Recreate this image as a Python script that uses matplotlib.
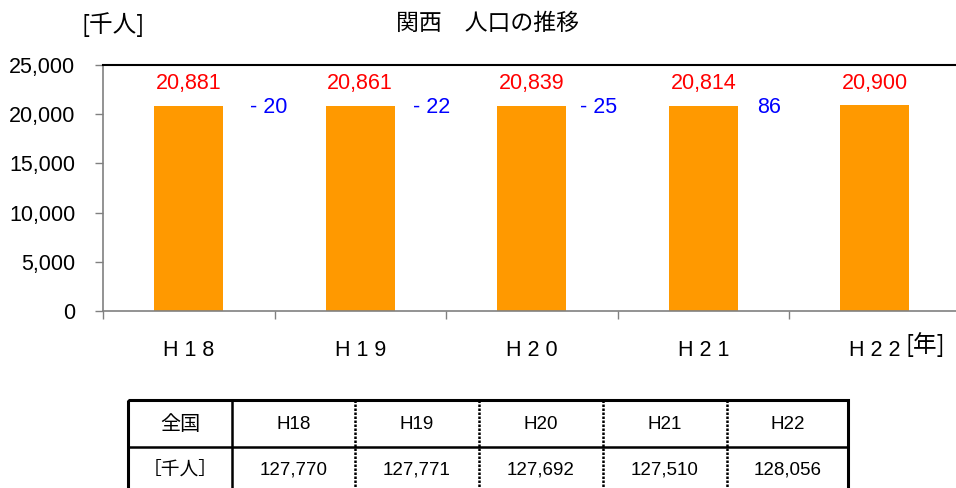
import numpy as np
import matplotlib
matplotlib.use('Agg')
import matplotlib.pyplot as plt
from matplotlib.patches import Rectangle
from matplotlib.ticker import FuncFormatter, FixedLocator

plt.rcParams['font.family'] = ['Liberation Sans', 'Noto Sans CJK JP', 'DejaVu Sans']

# data
years = ['H18', 'H19', 'H20', 'H21', 'H22']
kansai = [20881, 20861, 20839, 20814, 20900]
diffs = [-20, -22, -25, 86]
japan = [127770, 127771, 127692, 127510, 128056]
yticks = [0, 5000, 10000, 15000, 20000, 25000]

# horizontal nudge of the change labels (points), as placed in the original
diff_dx = [-4, -10.5, -13.5, -14]

W, H = 956, 488
fig = plt.figure(figsize=(W / 100, H / 100), dpi=100)

# main chart axes (pixel layout)
left, right, top, bottom = 103, 103 + 171.5 * 5, 65, 311
ax = fig.add_axes([left / W, (H - bottom) / H, (right - left) / W, (bottom - top) / H])

x = np.arange(len(years))
ax.bar(x, kansai, width=0.4, color='#FF9900', zorder=2)
ax.set_xlim(-0.5, len(years) - 0.5)
ax.set_ylim(0, 25000)

ax.yaxis.set_major_locator(FixedLocator(yticks))
ax.yaxis.set_major_formatter(FuncFormatter(lambda v, p: f'{int(v):,}'))
ax.tick_params(axis='y', direction='out', length=6, width=1, color='#808080',
               labelsize=15.5, pad=14)

# category boundaries as major ticks, labels on minor ticks
ax.set_xticks(np.arange(len(years)) - 0.5)
ax.set_xticklabels([])
ax.set_xticks(x, minor=True)
ax.set_xticklabels([' '.join(y) for y in years], minor=True, fontsize=15.5)
ax.tick_params(axis='x', which='major', direction='out', length=6, width=1, color='#808080')
ax.tick_params(axis='x', which='minor', length=0, pad=21)

for s in ['left', 'bottom']:
    ax.spines[s].set_color('#808080')
    ax.spines[s].set_linewidth(1.2)
ax.spines['right'].set_visible(False)
ax.spines['top'].set_color('black')
ax.spines['top'].set_linewidth(1.5)

for xi, v in zip(x, kansai):
    ax.annotate(f'{v:,}', (xi, v), xytext=(0, 16), textcoords='offset points',
                ha='center', va='center', color='#FF0000', fontsize=15.5)

# change labels sit on one common line just below the bar tops
diff_y = min(kansai)
for i, d in enumerate(diffs):
    label = f'- {abs(d)}' if d < 0 else f'{d}'
    ax.annotate(label, (i + 0.5, diff_y), xytext=(diff_dx[i], -1), textcoords='offset points',
                ha='center', va='center', color='#0000FF', fontsize=15.5)

fig.text(487 / W, 1 - 23 / H, '関西\u3000人口の推移', ha='center', va='center',
         fontsize=16.5, family=['Noto Sans CJK JP'])
fig.text(113 / W, 1 - 25 / H, '[千人]', ha='center', va='center',
         fontsize=17, family=['Noto Sans CJK JP'])
fig.text(925 / W, 1 - 345 / H, '[年]', ha='center', va='center',
         fontsize=17, family=['Noto Sans CJK JP'])

# table below the chart
t_left, t_top, t_right, t_bottom = 128, 400, 848, 494
tax = fig.add_axes([t_left / W, (H - t_bottom) / H, (t_right - t_left) / W, (t_bottom - t_top) / H])
tax.set_xlim(t_left, t_right)
tax.set_ylim(t_bottom, t_top)
tax.axis('off')

col_edges = [128, 232, 355, 479, 603, 727, 848]
row_mid = 447
tax.add_patch(Rectangle((t_left, t_top), t_right - t_left, t_bottom - t_top,
                        fill=False, lw=2.2, ec='black', clip_on=False))
tax.plot([t_left, t_right], [row_mid, row_mid], color='black', lw=1.8, clip_on=False)
tax.plot([col_edges[1]] * 2, [t_top, t_bottom], color='black', lw=1.8, clip_on=False)
for xe in col_edges[2:-1]:
    tax.plot([xe, xe], [t_top, t_bottom], color='black', lw=1.8, ls=(0, (1, 0.6)), clip_on=False)

hdr_y, val_y = 425, 470
tax.text((col_edges[0] + col_edges[1]) / 2, hdr_y, '全国', ha='center', va='center',
         fontsize=14.5, family=['Noto Sans CJK JP'])
tax.text((col_edges[0] + col_edges[1]) / 2, val_y, '［千人］', ha='center', va='center',
         fontsize=13.5, family=['Noto Sans CJK JP'])
for i, (yr, v) in enumerate(zip(years, japan)):
    cx = (col_edges[i + 1] + col_edges[i + 2]) / 2
    tax.text(cx, hdr_y, yr, ha='center', va='center', fontsize=13.5)
    tax.text(cx, val_y, f'{v:,}', ha='center', va='center', fontsize=13.5)

fig.savefig('out.png', dpi=100)
